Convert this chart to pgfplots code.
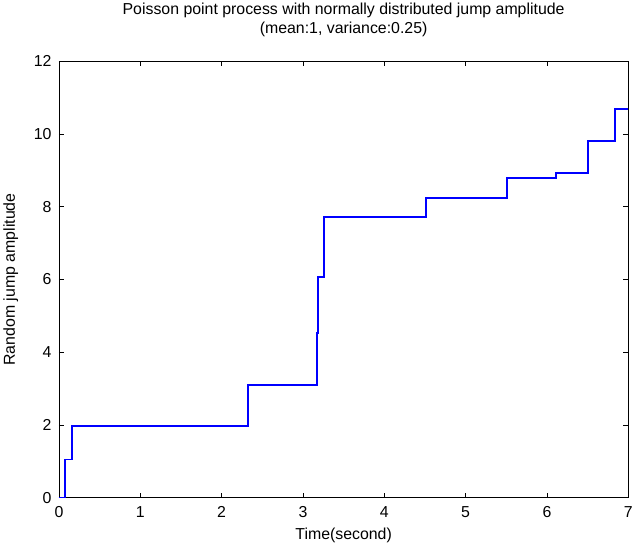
\documentclass[border=0pt]{standalone}
\usepackage{pgfplots}
\pgfplotsset{compat=1.18}
\usepackage{fontspec}
\setmainfont{Liberation Sans}
\definecolor{mblue}{RGB}{0,0,255}
\begin{document}
\begin{tikzpicture}
\begin{axis}[
  scale only axis,
  width=574pt, height=440pt,
  xmin=0, xmax=7, ymin=0, ymax=12,
  xtick={0,1,...,7}, ytick={0,2,...,12},
  tick align=inside,
  major tick length=5pt,
  tick style={black, line width=0.8pt},
  axis line style={black, line width=0.8pt},
  /pgf/number format/assume math mode=true,
  tick label style={font=\fontsize{16}{18}\selectfont},
  yticklabel style={xshift=-4pt},
  xticklabel style={yshift=-5pt},
  label style={font=\fontsize{16}{18}\selectfont},
  title style={font=\fontsize{16}{19}\selectfont, align=center, yshift=15pt},
  title={Poisson point process with normally distributed jump amplitude\\(mean:1, variance:0.25)},
  xlabel={Time(second)},
  ylabel={Random jump amplitude},
  xlabel style={yshift=-4pt},
  ylabel style={yshift=9pt},
]
\addplot[mblue, line width=2pt, line join=miter] coordinates {
(0,0) (0.08,0) (0.08,1.05) (0.155,1.05) (0.155,1.98) (2.33,1.98) (2.33,3.11)
(3.17,3.11) (3.17,4.53) (3.18,4.53) (3.18,6.07) (3.26,6.07) (3.26,7.72)
(4.51,7.72) (4.51,8.25) (5.51,8.25) (5.51,8.79) (6.11,8.79) (6.11,8.94)
(6.51,8.94) (6.51,9.82) (6.84,9.82) (6.84,10.69) (7,10.69)
};
\end{axis}
\end{tikzpicture}
\end{document}
